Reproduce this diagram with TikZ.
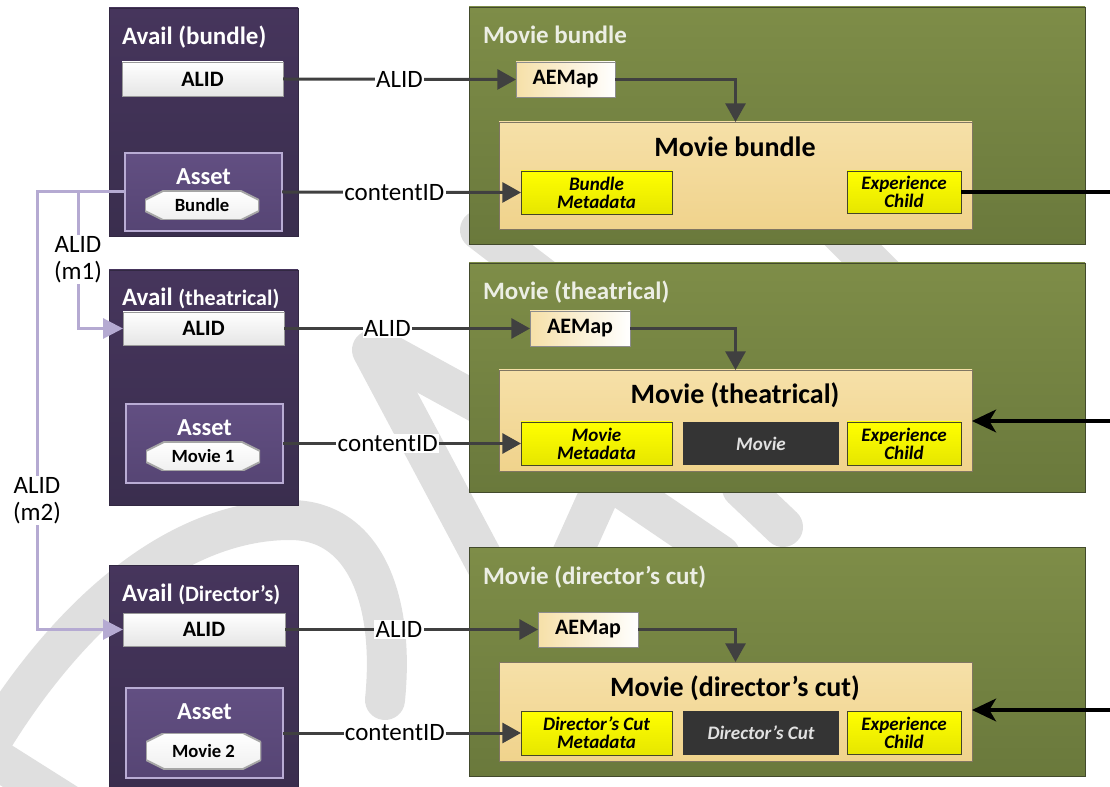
\documentclass[tikz,border=0pt]{standalone}
\usepackage{fontspec}
\setmainfont{Carlito}
\usepackage{tikz}
\usetikzlibrary{arrows.meta}

\definecolor{availtop}{RGB}{70,53,92}
\definecolor{availbot}{RGB}{58,46,78}
\definecolor{availedge}{RGB}{50,40,66}
\definecolor{assettop}{RGB}{98,79,130}
\definecolor{assetbot}{RGB}{86,69,116}
\definecolor{assetedge}{RGB}{185,172,212}
\definecolor{greentop}{RGB}{126,141,72}
\definecolor{greenbot}{RGB}{106,121,60}
\definecolor{greenedge}{RGB}{66,74,44}
\definecolor{tantop}{RGB}{246,224,168}
\definecolor{tanbot}{RGB}{240,211,140}
\definecolor{tanedge}{RGB}{128,118,98}
\definecolor{metatop}{RGB}{255,255,0}
\definecolor{metabot}{RGB}{230,230,0}
\definecolor{metaedge}{RGB}{70,70,40}
\definecolor{darkbox}{RGB}{52,52,52}
\definecolor{darktext}{RGB}{225,225,225}
\definecolor{linkgray}{RGB}{64,64,64}
\definecolor{idpurple}{RGB}{181,170,210}
\definecolor{wmgray}{RGB}{223,223,223}
\definecolor{titlegreen}{RGB}{236,238,228}

\newcommand{\pxl}{0.75pt}
\newcommand{\fsz}[1]{\fontsize{#1}{#1}\selectfont}

\begin{document}
\begin{tikzpicture}[
  x=0.75pt, y=-0.75pt,
  every node/.style={inner sep=0pt, outer sep=0pt},
  wh/.style 2 args={minimum width=#1*\pxl, minimum height=#2*\pxl},
  wmark/.style={draw=wmgray, line width=30pt, line cap=round},
  availbox/.style={draw=availedge, top color=availtop, bottom color=availbot},
  availtitle/.style={anchor=west, text=white, font=\fsz{18.75}\bfseries},
  alidbox/.style={draw=black!40, top color=white, bottom color=black!10, font=\fsz{16.5}\bfseries},
  assetbox/.style={draw=assetedge, line width=0.8pt, top color=assettop, bottom color=assetbot},
  assettitle/.style={text=white, font=\fsz{18.3}\bfseries},
  hexnode/.style={font=\fsz{14}\bfseries, path picture={
      \draw[draw=black!35, line width=1.4pt, top color=white, bottom color=black!6]
        ([xshift=18*\pxl]path picture bounding box.north west)
        -- ([xshift=-18*\pxl]path picture bounding box.north east)
        -- ([yshift=-9*\pxl]path picture bounding box.north east)
        -- ([yshift=9*\pxl]path picture bounding box.south east)
        -- ([xshift=-18*\pxl]path picture bounding box.south east)
        -- ([xshift=18*\pxl]path picture bounding box.south west)
        -- ([yshift=9*\pxl]path picture bounding box.south west)
        -- ([yshift=-9*\pxl]path picture bounding box.north west) -- cycle;}},
  moviebox/.style={draw=greenedge, top color=greentop, bottom color=greenbot},
  movietitle/.style={anchor=west, text=titlegreen, font=\fsz{18.75}\bfseries},
  aemap/.style={draw=black!45, left color=tantop, right color=white, font=\fsz{16.5}\bfseries},
  innerbox/.style={draw=tanedge, top color=tantop, bottom color=tanbot},
  innertitle/.style={font=\fsz{21}\bfseries},
  metabox/.style={draw=metaedge, top color=metatop, bottom color=metabot, align=center,
    font=\fontsize{14.3}{13.5}\selectfont\bfseries\itshape},
  darkbx/.style={fill=darkbox, text=darktext, font=\fsz{14.3}\bfseries\itshape},
  link/.style={draw=linkgray, line width=2.25pt},
  linkarrow/.style={link, -{Triangle[length=14pt,width=15pt]}},
  childlink/.style={draw=black, line width=2.6pt},
  childarrow/.style={childlink, -{Stealth[length=18pt,width=17pt,inset=5pt]}},
  idlink/.style={draw=idpurple, line width=2.25pt},
  idarrow/.style={idlink, -{Triangle[length=15pt,width=15pt]}},
  lbl/.style={fill=white, inner sep=1pt, font=\fontsize{18.75}{20.25}\selectfont, align=center}
]
\useasboundingbox (0,0) rectangle (1110,787);

% watermark
\draw[wmark] (-15,752) .. controls (60,625) and (170,520) .. (290,520)
  .. controls (365,520) and (395,600) .. (385,700);
\draw[wmark] (-15,752) -- (80,812);
\draw[wmark] (372,350) -- (505,600);
\draw[wmark] (385,352) -- (500,415);
\draw[wmark] (610,470) -- (565,570);
\draw[wmark] (595,470) -- (720,555);
\draw[wmark] (742,488) -- (783,527);
\draw[wmark] (480,230) -- (548,282);
\draw[wmark] (838,230) -- (888,280);

% movie side
\node[moviebox, wh={616}{237}] (movB) at (777,125.5) {};
\node[moviebox, wh={616}{229}] (movT) at (777,377.5) {};
\node[moviebox, wh={616}{229}] (movD) at (777,661.5) {};
\node[movietitle] (movBt) at (483,35) {Movie bundle};
\node[movietitle] (movTt) at (483,292) {Movie (theatrical)};
\node[movietitle] (movDt) at (483,577) {Movie (director’s cut)};

\node[aemap, wh={99}{35}] (aemB) at (565.5,79.5) {AEMap};
\node[aemap, wh={100}{35}] (aemT) at (580,328.5) {AEMap};
\node[aemap, wh={100}{35}] (aemD) at (588,629.5) {AEMap};

\node[innerbox, wh={473}{107}] (innB) at (735.5,175.5) {};
\node[innerbox, wh={473}{101}] (innT) at (735.5,420.5) {};
\node[innerbox, wh={473}{99}] (innD) at (735.5,711.5) {};
\node[innertitle] (innBt) at (735,147) {Movie bundle};
\node[innertitle] (innTt) at (735,395) {Movie (theatrical)};
\node[innertitle] (innDt) at (735,688) {Movie (director’s cut)};

\node[metabox, wh={151}{43}] (metaB) at (596.5,192.5) {Bundle\\Metadata};
\node[metabox, wh={114}{42}] (expB) at (904,192) {Experience\\Child};
\node[metabox, wh={151}{43}] (metaT) at (596.5,443.5) {Movie\\Metadata};
\node[darkbx, wh={156}{43}] (movieT) at (761,443.5) {Movie};
\node[metabox, wh={114}{43}] (expT) at (904,443.5) {Experience\\Child};
\node[metabox, wh={151}{44}] (metaD) at (596.5,733) {Director’s Cut\\Metadata};
\node[darkbx, wh={156}{44}] (cutD) at (761,733) {Director’s Cut};
\node[metabox, wh={114}{43}] (expD) at (904,732.5) {Experience\\Child};

% avail side
\node[availbox, wh={189}{228}] (availB) at (203.5,122) {};
\node[availbox, wh={189}{235}] (availT) at (203.5,387.5) {};
\node[availbox, wh={189}{225}] (availD) at (203.5,677.5) {};
\node[availtitle] (availBt) at (122,37) {Avail (bundle)};
\node[availtitle] (availTt) at (122,298) {Avail {\fsz{16.5}(theatrical)}};
\node[availtitle] (availDt) at (122,594) {Avail {\fsz{16.5}(Director’s)}};

\node[alidbox, wh={161}{34}] (alidB) at (202.5,79) {ALID};
\node[alidbox, wh={161}{33}] (alidT) at (203.5,328.5) {ALID};
\node[alidbox, wh={162}{33}] (alidD) at (204,629.5) {ALID};

\node[assetbox, wh={157}{78}] (assetB) at (203.5,192) {};
\node[assetbox, wh={157}{79}] (assetT) at (204.5,443.5) {};
\node[assetbox, wh={157}{90}] (assetD) at (204.5,733) {};
\node[assettitle] (assetBt) at (203.5,177) {Asset};
\node[assettitle] (assetTt) at (204.5,428) {Asset};
\node[assettitle] (assetDt) at (204.5,712) {Asset};
\node[hexnode, wh={114}{29}] (hexB) at (202,205.5) {Bundle};
\node[hexnode, wh={114}{29}] (hexT) at (203,456.5) {Movie 1};
\node[hexnode, wh={115}{36}] (hexD) at (203.5,751) {Movie 2};

% ids
\draw[linkarrow] (alidB.east) -- node[lbl, pos=0.5] (lidB) {ALID} (aemB.west);
\draw[linkarrow] (alidT.east) -- node[lbl, pos=0.42] (lidT) {ALID} (aemT.west);
\draw[linkarrow] (alidD.east) -- node[lbl, pos=0.45] (lidD) {ALID} (aemD.west);
\draw[linkarrow] (assetB.east) -- node[lbl, pos=0.47] (cidB) {contentID} (metaB.west);
\draw[linkarrow] (assetT.east) -- node[lbl, pos=0.44] (cidT) {contentID} (metaT.west);
\draw[linkarrow] (assetD.east) -- node[lbl, pos=0.47] (cidD) {contentID} (metaD.west);

\draw[linkarrow] (aemB.east) -| (innB.north);
\draw[linkarrow] (aemT.east) -| (innT.north);
\draw[linkarrow] (aemD.east) -| (innD.north);

% experience children
\coordinate (edgeB) at (1112,192);
\coordinate (edgeT) at (1112,421);
\coordinate (edgeD) at (1112,710);
\draw[childlink] (expB.east) -- (edgeB);
\draw[childarrow] (edgeT) -- (innT.east |- edgeT);
\draw[childarrow] (edgeD) -- (innD.east |- edgeD);

% ALID mapping
\coordinate (splitL) at (37,192);
\coordinate (splitM) at (78,192);
\draw[idarrow] (assetB.west) -- (splitL) |- (alidD.west);
\draw[idarrow] (splitM) |- (alidT.west);
\node[lbl] (m1) at (78,259.5) {ALID\\(m1)};
\node[lbl] (m2) at (37,500.5) {ALID\\(m2)};
\end{tikzpicture}
\end{document}
